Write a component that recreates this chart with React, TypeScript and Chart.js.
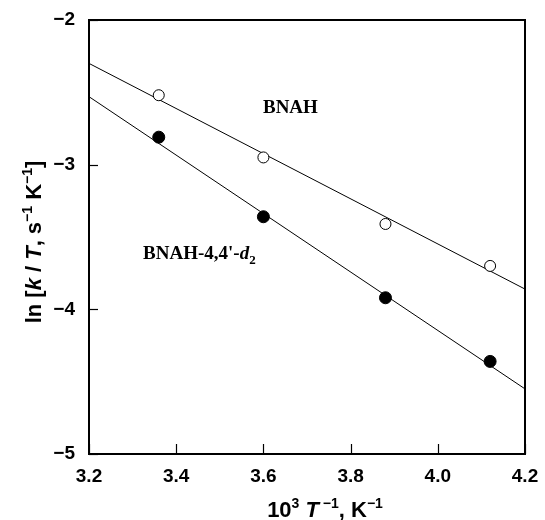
import React, { useEffect, useRef } from "react";
import { Chart, registerables } from "chart.js";

Chart.register(...registerables);

// Data
const invT = [3.36, 3.6, 3.88, 4.12];
const lnBNAH = [-2.52, -2.95, -3.41, -3.7];
const lnBNAHd2 = [-2.81, -3.36, -3.92, -4.36];
const fitX = [3.2, 4.2];
const fitBNAH = [-2.3, -3.86];
const fitBNAHd2 = [-2.53, -4.55];
const xTicks = [3.2, 3.4, 3.6, 3.8, 4.0, 4.2];
const yTicks = [-5, -4, -3, -2];

type Seg = { t: string; font: string; dy?: number };

const SANS = '"Liberation Sans", Arial, sans-serif';
const SERIF = '"Liberation Serif", "Times New Roman", serif';

function drawSegs(ctx: CanvasRenderingContext2D, segs: Seg[], x: number, y: number, align: "left" | "center") {
  let total = 0;
  const widths = segs.map((s) => {
    ctx.font = s.font;
    const w = ctx.measureText(s.t).width;
    total += w;
    return w;
  });
  let cx = align === "center" ? x - total / 2 : x;
  ctx.textAlign = "left";
  ctx.textBaseline = "alphabetic";
  segs.forEach((s, i) => {
    ctx.font = s.font;
    ctx.fillText(s.t, cx, y + (s.dy || 0));
    cx += widths[i];
  });
}

const framePlugin = {
  id: "frameAndLabels",
  afterDraw(chart: any) {
    const { ctx, chartArea } = chart;
    const xs = chart.scales.x;
    const ys = chart.scales.y;
    ctx.save();
    ctx.strokeStyle = "#000";
    ctx.fillStyle = "#000";
    ctx.lineWidth = 2;
    ctx.strokeRect(chartArea.left, chartArea.top, chartArea.right - chartArea.left, chartArea.bottom - chartArea.top);
    // inner ticks
    ctx.lineWidth = 1.2;
    yTicks.forEach((v) => {
      const py = Math.round(ys.getPixelForValue(v)) + 0.5;
      ctx.beginPath();
      ctx.moveTo(chartArea.left, py);
      ctx.lineTo(chartArea.left + 9, py);
      ctx.stroke();
    });
    xTicks.forEach((v) => {
      const px = Math.round(xs.getPixelForValue(v)) + 0.5;
      ctx.beginPath();
      ctx.moveTo(px, chartArea.bottom);
      ctx.lineTo(px, chartArea.bottom - 10);
      ctx.stroke();
    });

    // series annotations
    drawSegs(ctx, [{ t: "BNAH", font: `bold 19px ${SERIF}` }], xs.getPixelForValue(3.599), ys.getPixelForValue(-2.643), "left");
    drawSegs(
      ctx,
      [
        { t: "BNAH-4,4'-", font: `bold 19px ${SERIF}` },
        { t: "d", font: `italic bold 19px ${SERIF}` },
        { t: "2", font: `bold 13px ${SERIF}`, dy: 5 },
      ],
      xs.getPixelForValue(3.324),
      ys.getPixelForValue(-3.652),
      "left"
    );

    // x axis title
    const big = `bold 22px ${SANS}`;
    const bigI = `italic bold 22px ${SANS}`;
    const sup = `bold 14px ${SANS}`;
    drawSegs(
      ctx,
      [
        { t: "10", font: big },
        { t: "3", font: sup, dy: -9 },
        { t: " ", font: big },
        { t: "T", font: bigI },
        { t: " −1", font: sup, dy: -9 },
        { t: ", K", font: big },
        { t: "−1", font: sup, dy: -9 },
      ],
      325,
      517,
      "center"
    );

    // y axis title
    ctx.translate(41, 242);
    ctx.rotate(-Math.PI / 2);
    drawSegs(
      ctx,
      [
        { t: "ln [", font: big },
        { t: "k", font: bigI },
        { t: " / ", font: big },
        { t: "T", font: bigI },
        { t: ", s", font: big },
        { t: "−1", font: sup, dy: -9 },
        { t: " K", font: big },
        { t: "−1", font: sup, dy: -9 },
        { t: "]", font: big },
      ],
      0,
      0,
      "center"
    );
    ctx.restore();
  },
};

function zeroPad(s: any) {
  s.paddingTop = 0;
  s.paddingBottom = 0;
  s.paddingLeft = 0;
  s.paddingRight = 0;
}

export default function App() {
  const ref = useRef<HTMLCanvasElement>(null);
  useEffect(() => {
    const canvas = ref.current;
    if (!canvas) return;
    const chart = new Chart(canvas, {
      type: "scatter",
      data: {
        datasets: [
          {
            label: "BNAH fit",
            data: fitX.map((x, i) => ({ x, y: fitBNAH[i] })),
            showLine: true,
            borderColor: "#000",
            borderWidth: 1,
            pointRadius: 0,
            order: 3,
          },
          {
            label: "BNAH-4,4'-d2 fit",
            data: fitX.map((x, i) => ({ x, y: fitBNAHd2[i] })),
            showLine: true,
            borderColor: "#000",
            borderWidth: 1,
            pointRadius: 0,
            order: 3,
          },
          {
            label: "BNAH",
            data: invT.map((x, i) => ({ x, y: lnBNAH[i] })),
            showLine: false,
            pointRadius: 5.5,
            pointBackgroundColor: "#fff",
            pointBorderColor: "#000",
            pointBorderWidth: 1,
            order: 1,
          },
          {
            label: "BNAH-4,4'-d2",
            data: invT.map((x, i) => ({ x, y: lnBNAHd2[i] })),
            showLine: false,
            pointRadius: 6,
            pointBackgroundColor: "#000",
            pointBorderColor: "#000",
            pointBorderWidth: 1,
            order: 1,
          },
        ],
      },
      options: {
        responsive: false,
        animation: false,
        events: [],
        layout: { padding: { left: 0, right: 20, top: 20, bottom: 0 } },
        plugins: { legend: { display: false }, tooltip: { enabled: false } },
        scales: {
          x: {
            type: "linear",
            min: 3.2,
            max: 4.2,
            afterFit: (s: any) => {
              s.height = 66;
              zeroPad(s);
            },
            afterBuildTicks: (s: any) => {
              s.ticks = xTicks.map((v) => ({ value: v }));
            },
            ticks: {
              font: { family: SANS, size: 19, weight: "bold" },
              color: "#000",
              padding: 11,
              maxRotation: 0,
              autoSkip: false,
              callback: (v: any) => Number(v).toFixed(1),
            },
            grid: { display: false, drawTicks: false },
            border: { display: false },
          },
          y: {
            type: "linear",
            min: -5,
            max: -2,
            afterFit: (s: any) => {
              s.width = 89;
              zeroPad(s);
            },
            afterBuildTicks: (s: any) => {
              s.ticks = yTicks.map((v) => ({ value: v }));
            },
            ticks: {
              font: { family: SANS, size: 19, weight: "bold" },
              color: "#000",
              padding: 14,
              autoSkip: false,
              callback: (v: any) => (Number(v) < 0 ? "\u2212" + Math.abs(Number(v)) : String(v)),
            },
            grid: { display: false, drawTicks: false },
            border: { display: false },
          },
        },
      },
      plugins: [framePlugin],
    });
    return () => chart.destroy();
  }, []);
  return (
    <div style={{ position: "absolute", left: 0, top: 0, width: 545, height: 520, background: "#fff" }}>
      <canvas ref={ref} width={545} height={520} style={{ display: "block" }} />
    </div>
  );
}
